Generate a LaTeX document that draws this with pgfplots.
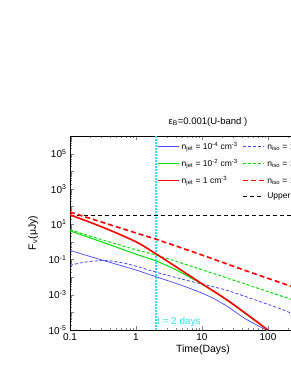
\documentclass[border=0pt]{standalone}
\usepackage{pgfplots}
\pgfplotsset{compat=1.18}
\usepackage{fontspec}
\setmainfont{Liberation Sans}
\definecolor{cblue}{RGB}{70,70,255}
\definecolor{cgreen}{RGB}{0,225,0}
\definecolor{cred}{RGB}{255,0,0}
\definecolor{ccyan}{RGB}{40,230,240}
\begin{document}
\begin{tikzpicture}
\useasboundingbox (0,0) rectangle (291pt,376pt);
\clip (0,0) rectangle (291pt,376pt);
\begin{axis}[
  at={(70pt,46pt)}, anchor=south west,
  scale only axis, width=264pt, height=194pt,
  xmode=log, ymode=log,
  xmin=0.1, xmax=1000, ymin=1e-5, ymax=1e6,
  axis line style={line width=0.8pt},
  major tick length=4pt, minor tick length=2pt,
  tick align=inside,
  xtick={0.1,1,10,100,1000},
  xticklabels={0.1,1,10,100,1000},
  ytick={1e-5,1e-4,1e-3,1e-2,1e-1,1,1e1,1e2,1e3,1e4,1e5,1e6},
  yticklabels={10\textsuperscript{-5},{},10\textsuperscript{-3},{},10\textsuperscript{-1},{},10\textsuperscript{1},{},10\textsuperscript{3},{},10\textsuperscript{5},{}},
  ticklabel style={font=\fontsize{10}{12}\selectfont},
  xlabel={Time(Days)},
  ylabel={F\textsubscript{ν}(μJy)},
  label style={font=\fontsize{10.5}{12}\selectfont},
  xlabel style={at={(axis description cs:0.504,-0.103)}, anchor=center},
  ylabel style={at={(axis description cs:-0.14,0.5)}, anchor=center},
  legend columns=2,
  legend cell align=left,
  legend image code/.code={\draw[#1] (0pt,0pt) -- (21pt,0pt);},
  legend style={draw=none, fill=none, at={(axis description cs:0.318,0.99)}, anchor=north west,
    font=\fontsize{8.5}{10}\selectfont, row sep=4.5pt,
    /tikz/every even column/.append style={column sep=3pt}},
]
% t = 2 days marker
\addplot[draw=ccyan, line width=1.3pt, dash pattern=on 2pt off 1pt, forget plot] coordinates {(2,1e-5) (2,1e6)};
% Upper
\addplot[draw=black, line width=0.8pt, dash pattern=on 4pt off 3pt, forget plot] coordinates {(0.1,31.6) (1000,31.6)};
% blue solid n_jet = 1e-4
\addplot[color=cblue, draw=cblue, line width=0.7pt, smooth] coordinates {
 (0.1,0.324) (0.316,0.0891) (1,0.0251) (2,0.0105) (3.98,4.47e-3) (7.83,1.78e-3)
 (14.8,6.31e-4) (26.3,1.78e-4) (44.7,4.47e-5) (100,8.9e-6)};
\addlegendentry{n\textsubscript{jet} = 10\textsuperscript{-4} cm\textsuperscript{-3}}
% blue dashed n_iso = 1e-4
\addplot[color=cblue, draw=cblue, line width=0.8pt, dash pattern=on 3pt off 2pt, smooth] coordinates {
 (0.1,0.0468) (0.158,0.0676) (0.251,0.0832) (0.363,0.0871) (0.631,0.0631) (1,0.0417)
 (2,0.0191) (3.98,9.55e-3) (7.83,5.01e-3) (13.2,3.16e-3) (26.3,1.58e-3) (100,2.82e-4) (224,8.9e-5) (1000,5.0e-6)};
\addlegendentry{n\textsubscript{iso} = 10\textsuperscript{-4} cm\textsuperscript{-3}}
% green solid n_jet = 1e-2
\addplot[color=cgreen, draw=cgreen, line width=1pt, smooth] coordinates {
 (0.1,4.17) (0.316,0.933) (1,0.2) (2,0.0832) (3.98,0.0263) (10,3.98e-3)
 (26.3,3.8e-4) (100,9.5e-6)};
\addlegendentry{n\textsubscript{jet} = 10\textsuperscript{-2} cm\textsuperscript{-3}}
% green dashed n_iso = 1e-2
\addplot[color=cgreen, draw=cgreen, line width=1pt, dash pattern=on 3pt off 2pt, smooth] coordinates {
 (0.1,4.79) (0.316,1.26) (1,0.355) (2,0.178) (7.83,0.0355) (31.6,6.31e-3) (224,5.5e-4) (1000,8.5e-5)};
\addlegendentry{n\textsubscript{iso} = 10\textsuperscript{-2} cm\textsuperscript{-3}}
% red solid n_jet = 1
\addplot[color=cred, draw=cred, line width=1.6pt, smooth] coordinates {
 (0.1,33.9) (0.316,6.61) (1,1.0) (2,0.209) (3.98,0.0398) (10,4.17e-3)
 (26.3,3.98e-4) (100,1e-5)};
\addlegendentry{n\textsubscript{jet} = 1 cm\textsuperscript{-3}}
% red dashed n_iso = 1
\addplot[color=cred, draw=cred, line width=1.6pt, dash pattern=on 5pt off 3pt, smooth] coordinates {
 (0.1,49) (1,3.16) (2,1.41) (10,0.178) (44.7,0.024) (224,3.02e-3) (1000,4.4e-4)};
\addlegendentry{n\textsubscript{iso} = 1 cm\textsuperscript{-3}}
\addlegendimage{empty legend}
\addlegendentry{}
\addlegendimage{draw=black, line width=0.8pt, dash pattern=on 4pt off 3pt}
\addlegendentry{Upper}
\node[anchor=west, text=ccyan, font=\fontsize{10}{12}\selectfont, inner sep=1pt] at (axis cs:2,3.0e-5) {t = 2 days};
\end{axis}
\node[font=\fontsize{9.5}{11}\selectfont] at (208pt,254pt) {ε\textsubscript{B}=0.001(U-band )};
\end{tikzpicture}
\end{document}
